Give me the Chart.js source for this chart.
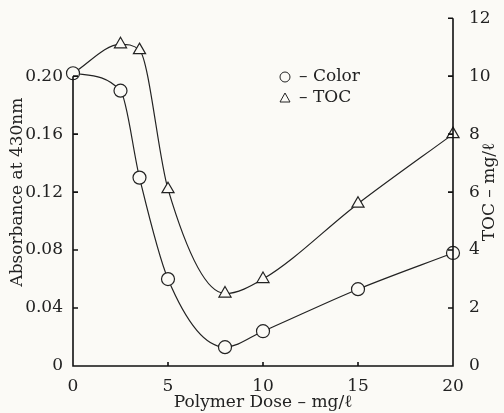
<!DOCTYPE html>
<html>
<head>
<meta charset="utf-8">
<script src="https://cdn.jsdelivr.net/npm/chart.js@4.4.1/dist/chart.umd.min.js"></script>
<style>
    html, body { margin: 0; padding: 0; background: #fbfaf6; }
    #wrap { width: 504px; height: 413px; }
</style>
</head>
<body>
<div id="wrap"><canvas id="chart"></canvas></div>
<script>
/**************** DATA ****************/
const doseValues = [0, 2.5, 3.5, 5, 8, 10, 15, 20];
const colorAbsorbance = [0.202, 0.190, 0.130, 0.060, 0.013, 0.024, 0.053, 0.078];
const tocValues = [10.1, 11.1, 10.9, 6.1, 2.5, 3.0, 5.6, 8.0];

const doseTicks = [0, 5, 10, 15, 20];
const absorbanceTicks = [0, 0.04, 0.08, 0.12, 0.16, 0.20];
const tocTicks = [0, 2, 4, 6, 8, 10, 12];

const legendLabels = ["– Color", "– TOC"];
const xTitle = "Polymer Dose – mg/ℓ";
const leftTitle = "Absorbance at 430nm";
const rightTitle = "TOC – mg/ℓ";

/**************** STYLE ****************/
const INK = "#222222";
const PAPER = "#fbfaf6";
const FONT = "'DejaVu Serif', 'Liberation Serif', serif";
const FONT_SIZE = 17;

/**************** PLUGIN: spines, inward ticks, legend, right title ****************/
function drawFrame(chart) {
    const ctx = chart.ctx;
    const area = chart.chartArea;
    const xs = chart.scales.x;
    const yl = chart.scales.yLeft;
    const yr = chart.scales.yRight;
    const topVal = absorbanceTicks[absorbanceTicks.length - 1];

    ctx.save();
    ctx.strokeStyle = "#111111";
    ctx.lineWidth = 1.6;
    ctx.beginPath();

    // bottom + right spine, left spine stops at 0.20
    ctx.moveTo(area.left, yl.getPixelForValue(topVal));
    ctx.lineTo(area.left, area.bottom);
    ctx.lineTo(area.right, area.bottom);
    ctx.lineTo(area.right, area.top);

    absorbanceTicks.forEach(v => {
        if (v === 0) return;
        const py = yl.getPixelForValue(v);
        ctx.moveTo(area.left, py);
        ctx.lineTo(area.left + 5, py);
    });
    tocTicks.forEach(v => {
        if (v === 0) return;
        const py = yr.getPixelForValue(v);
        ctx.moveTo(area.right, py);
        ctx.lineTo(area.right - 5, py);
    });
    doseTicks.forEach(v => {
        if (v === 0 || v === 20) return;
        const px = xs.getPixelForValue(v);
        ctx.moveTo(px, area.bottom);
        ctx.lineTo(px, area.bottom - 4);
    });
    ctx.stroke();
    ctx.restore();
}

const decorations = {
    id: "decorations",
    afterDraw(chart) {
        drawFrame(chart);

        const ctx = chart.ctx;
        const area = chart.chartArea;
        ctx.save();
        ctx.fillStyle = INK;
        ctx.strokeStyle = INK;
        ctx.lineWidth = 1;
        ctx.font = FONT_SIZE + "px " + FONT;
        ctx.textBaseline = "middle";
        ctx.textAlign = "left";

        // legend
        const lx = area.left + 212;
        const ly = 77;
        ctx.beginPath();
        ctx.arc(lx, ly, 5, 0, Math.PI * 2);
        ctx.stroke();
        ctx.fillText(legendLabels[0], lx + 14, ly);

        const ty = ly + 21;
        ctx.beginPath();
        ctx.moveTo(lx, ty - 5);
        ctx.lineTo(lx + 5, ty + 4);
        ctx.lineTo(lx - 5, ty + 4);
        ctx.closePath();
        ctx.stroke();
        ctx.fillText(legendLabels[1], lx + 14, ty);

        // right axis title, reads bottom to top
        ctx.translate(chart.width - 14, (area.top + area.bottom) / 2);
        ctx.rotate(-Math.PI / 2);
        ctx.textAlign = "center";
        ctx.fillText(rightTitle, 0, 0);
        ctx.restore();
    }
};

/**************** CHART ****************/
const tickFont = { family: FONT, size: FONT_SIZE };

new Chart(document.getElementById("chart"), {
    type: "line",
    data: {
        datasets: [
            {
                label: "Color",
                yAxisID: "yLeft",
                data: doseValues.map((d, i) => ({ x: d, y: colorAbsorbance[i] })),
                borderColor: INK,
                borderWidth: 1.2,
                cubicInterpolationMode: "monotone",
                pointStyle: "circle",
                pointRadius: 6.5,
                pointBackgroundColor: PAPER,
                pointBorderColor: INK,
                pointBorderWidth: 1.2,
                clip: false
            },
            {
                label: "TOC",
                yAxisID: "yRight",
                data: doseValues.map((d, i) => ({ x: d, y: tocValues[i] })),
                borderColor: INK,
                borderWidth: 1.2,
                cubicInterpolationMode: "monotone",
                pointStyle: "triangle",
                pointRadius: ctx => ctx.dataIndex === 0 ? 0 : 7,
                pointBackgroundColor: PAPER,
                pointBorderColor: INK,
                pointBorderWidth: 1.2,
                clip: false
            }
        ]
    },
    options: {
        responsive: true,
        maintainAspectRatio: false,
        animation: false,
        layout: { padding: { top: 12, left: 0, right: 0, bottom: 0 } },
        plugins: {
            legend: { display: false },
            tooltip: { enabled: false }
        },
        scales: {
            x: {
                type: "linear",
                min: 0,
                max: 20,
                afterBuildTicks: s => { s.ticks = doseTicks.map(v => ({ value: v })); },
                afterFit: s => { s.height = 47; },
                grid: { display: false },
                border: { display: false },
                ticks: { color: INK, font: tickFont, padding: 2, maxRotation: 0 },
                title: {
                    display: true,
                    text: xTitle,
                    color: INK,
                    font: tickFont,
                    padding: { top: 0, bottom: 0 }
                }
            },
            yLeft: {
                type: "linear",
                position: "left",
                min: 0,
                max: 0.24,
                afterBuildTicks: s => { s.ticks = absorbanceTicks.map(v => ({ value: v })); },
                afterFit: s => { s.width = 73; },
                grid: { display: false },
                border: { display: false },
                ticks: {
                    color: INK,
                    font: tickFont,
                    padding: 2,
                    callback: v => v === 0 ? "0" : v.toFixed(2)
                },
                title: {
                    display: true,
                    text: leftTitle,
                    color: INK,
                    font: tickFont,
                    padding: { top: 7, bottom: 0 }
                }
            },
            yRight: {
                type: "linear",
                position: "right",
                min: 0,
                max: 12,
                afterBuildTicks: s => { s.ticks = tocTicks.map(v => ({ value: v })); },
                afterFit: s => { s.width = 51; },
                grid: { display: false },
                border: { display: false },
                ticks: { color: INK, font: tickFont, padding: 8 }
            }
        }
    },
    plugins: [decorations]
});
</script>
</body>
</html>
